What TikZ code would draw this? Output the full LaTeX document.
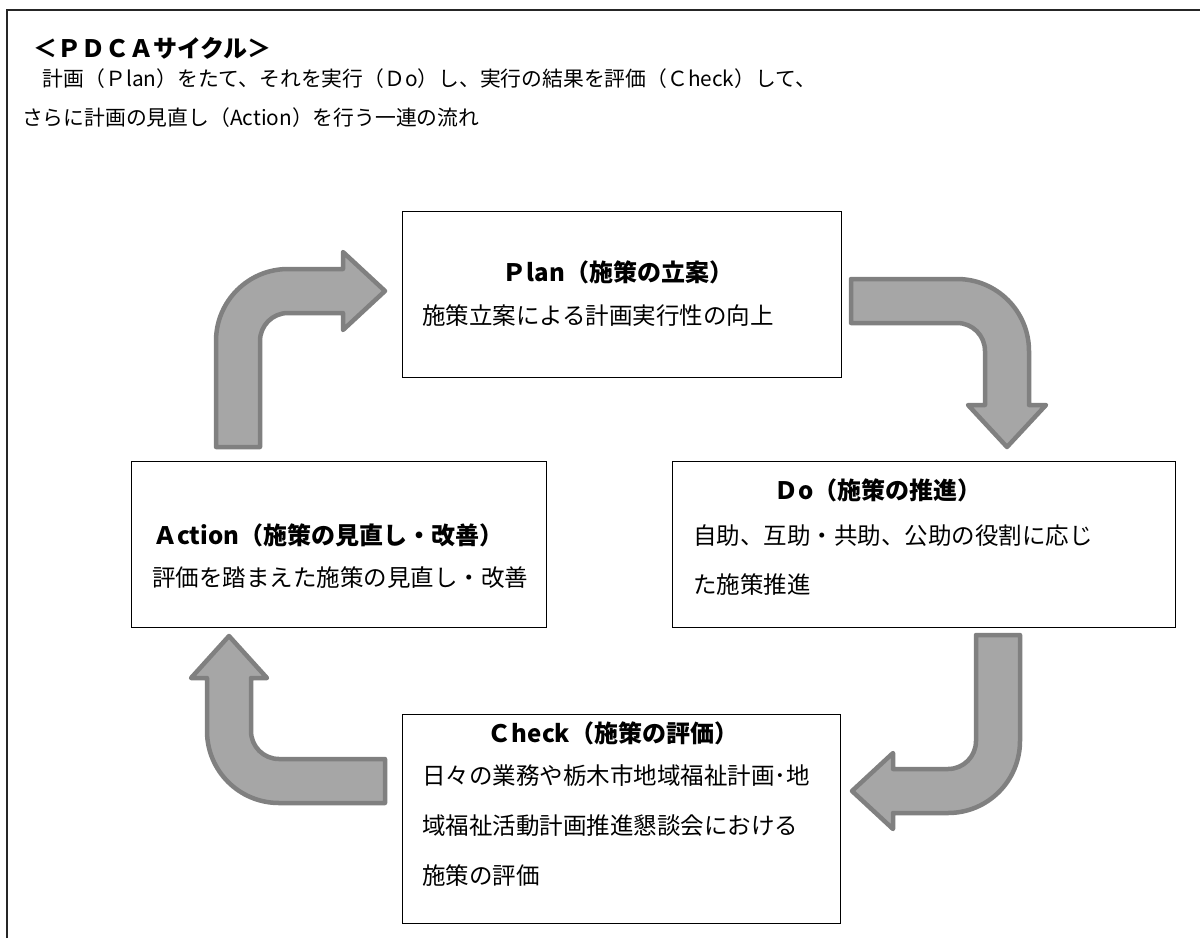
\documentclass[tikz,border=0pt]{standalone}
\usepackage{fontspec}
\setmainfont{Noto Sans CJK JP}
\definecolor{arrowfill}{HTML}{A6A6A6}
\definecolor{arrowline}{HTML}{808080}
\begin{document}
\begin{tikzpicture}[x=1pt,y=-1pt,
  frame/.style={draw=black!85, line width=2pt},
  box/.style={draw=black, line width=1.3pt, anchor=north west, inner sep=0pt},
  bentarrow/.style={fill=arrowfill, draw=arrowline, line width=4.5pt, line join=round},
  ttl/.style={font=\fontsize{24}{28}\selectfont\bfseries, inner sep=0pt},
  txt/.style={font=\fontsize{23.5}{28}\selectfont, inner sep=0pt, anchor=west},
  hdr/.style={font=\fontsize{20.8}{24}\selectfont, inner sep=0pt, anchor=west}]
\useasboundingbox (0,0) rectangle (1200,938);
% outer frame (open at right and bottom)
\draw[frame] (7,938) -- (7,10) -- (1200,10);
% header
\node[ttl, anchor=west] (head) at (33,48) {＜ＰＤＣＡサイクル＞};
\node[hdr] (l1) at (22,79) {　計画（Ｐlan）をたて、それを実行（Ｄo）し、実行の結果を評価（Ｃheck）して、};
\node[hdr] (l2) at (22,118) {さらに計画の見直し（Action）を行う一連の流れ};
% boxes
\node[box, minimum width=439pt, minimum height=166pt] (plan) at (402,211) {};
\node[box, minimum width=503pt, minimum height=166pt] (do) at (672,461) {};
\node[box, minimum width=415pt, minimum height=166pt] (act) at (131,461) {};
\node[box, minimum width=438pt, minimum height=209pt] (chk) at (402,714) {};
% box texts
\node[ttl] (planT) at (618,272) {Ｐlan（施策の立案）};
\node[txt] (planB) at (422,316) {施策立案による計画実行性の向上};
\node[ttl] (doT) at (878,490) {Ｄo（施策の推進）};
\node[txt] (doB1) at (693,536) {自助、互助・共助、公助の役割に応じ};
\node[txt] (doB2) at (693,585) {た施策推進};
\node[ttl, anchor=west] (actT) at (153,535) {Ａction（施策の見直し・改善）};
\node[txt] (actB) at (152,578) {評価を踏まえた施策の見直し・改善};
\node[ttl] (chkT) at (613,733) {Ｃheck（施策の評価）};
\node[txt] (chkB1) at (422,776) {日々の業務や栃木市地域福祉計画･地};
\node[txt] (chkB2) at (422,826) {域福祉活動計画推進懇談会における};
\node[txt] (chkB3) at (422,876) {施策の評価};
% bent arrows
% Action -> Plan
\draw[bentarrow] (216,447) -- (216,341) .. controls (216,301.2) and (248.2,269) .. (288,269)
  -- (343,269) -- (343,252) -- (385,291) -- (343,330) -- (343,313) -- (288,313)
  .. controls (272.5,313) and (260,325.5) .. (260,341) -- (260,447) -- cycle;
% Plan -> Do
\draw[bentarrow] (851,279) -- (957,279) .. controls (996.8,279) and (1029,311.2) .. (1029,351)
  -- (1029,405) -- (1046,405) -- (1007,447) -- (968,405) -- (985,405) -- (985,351)
  .. controls (985,335.5) and (972.5,323) .. (957,323) -- (851,323) -- cycle;
% Do -> Check
\draw[bentarrow] (976,635) -- (1020,635) -- (1020,741) .. controls (1020,780.8) and (987.8,813) .. (948,813)
  -- (893,813) -- (893,829) -- (852,791) -- (893,753) -- (893,769) -- (948,769)
  .. controls (963.5,769) and (976,756.5) .. (976,741) -- cycle;
% Check -> Action
\draw[bentarrow] (385,803) -- (279,803) .. controls (239.2,803) and (207,770.8) .. (207,731)
  -- (207,678) -- (191,678) -- (229,636) -- (267,678) -- (251,678) -- (251,731)
  .. controls (251,746.5) and (263.5,759) .. (279,759) -- (385,759) -- cycle;
\end{tikzpicture}
\end{document}
